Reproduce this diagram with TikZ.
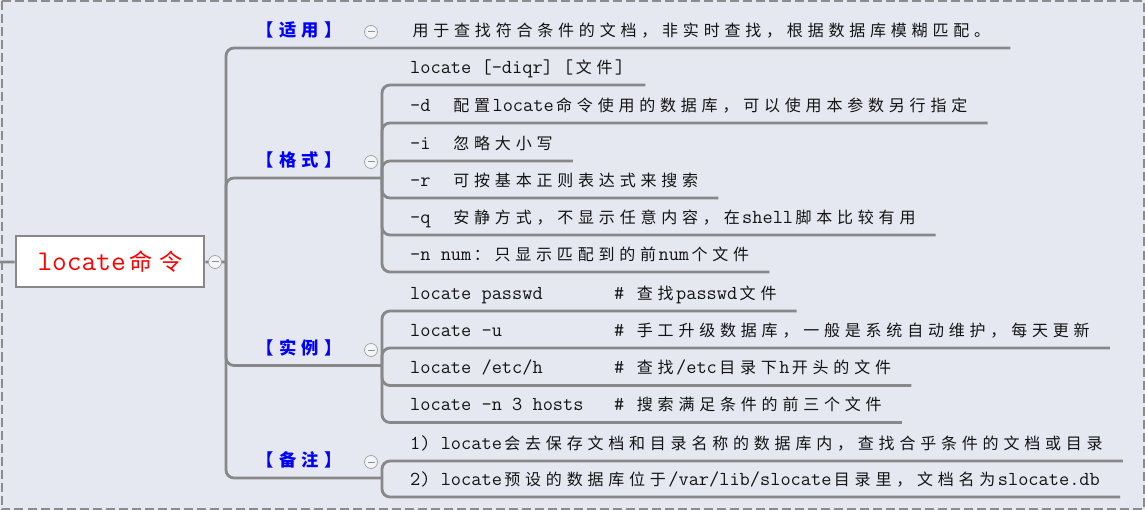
\documentclass[tikz,border=0pt]{standalone}
\usepackage{fontspec}
\newfontfamily\cjk{Noto Sans CJK SC}[Scale=0.808,LetterSpace=30]
\usetikzlibrary{positioning}
\definecolor{mapbg}{RGB}{229,232,240}
\definecolor{framegray}{RGB}{140,140,140}
\definecolor{wiregray}{RGB}{136,136,136}
\definecolor{foldgray}{RGB}{165,165,165}
\definecolor{foldfill}{RGB}{245,245,247}
\definecolor{foldmark}{RGB}{140,140,180}
\definecolor{labelblue}{RGB}{0,0,255}
\definecolor{rootred}{RGB}{255,0,0}
\definecolor{inkdark}{RGB}{20,20,20}
\newcommand{\zh}[1]{{\cjk\hspace{0.15em}#1\hspace{0.15em}}}
\tikzset{
  mapframe/.style={draw=framegray, line width=2pt, dash pattern=on 9pt off 4pt},
  wire/.style={draw=wiregray, line width=2.8pt, rounded corners=8pt},
  rootbox/.style={rectangle, draw=wiregray, line width=2.8pt, fill=white,
                  minimum width=188pt, minimum height=51pt, inner sep=0pt,
                  text=rootred, font=\ttfamily\fontsize{28.6}{32}\selectfont,
                  text height=19pt, text depth=0pt},
  branch/.style={anchor=base, inner sep=0pt, text=labelblue,
                 font=\ttfamily\fontsize{21.4}{24}\selectfont\bfseries},
  leaf/.style={anchor=south west, inner sep=0pt, text depth=11.5pt,
               text=inkdark, font=\ttfamily\fontsize{19.8}{22}\selectfont},
  fold/.style={circle, draw=foldgray, fill=foldfill, line width=0.8pt,
               minimum size=13pt, inner sep=0pt,
               path picture={\draw[foldmark, line width=1pt]
                 ([xshift=-3.5pt]path picture bounding box.center) --
                 ([xshift=3.5pt]path picture bounding box.center);}},
}
\begin{document}
\begin{tikzpicture}[x=1pt, y=-1pt]
\fill[mapbg] (0,0) rectangle (1145,510);
\draw[mapframe] (1.5,1.5) rectangle (1143.5,508.5);
\useasboundingbox (0,0) rectangle (1145,510);

\node[rootbox] (root) at (110,261.5) {locate\zh{命令}};
\coordinate (in) at (0,262);
\coordinate (hub) at (226,262);

\node[branch] (use) at (298,36.5) {\zh{【适用】}};
\node[branch] (fmt) at (298,166.5) {\zh{【格式】}};
\node[branch] (ex) at (298,354.5) {\zh{【实例】}};
\node[branch] (rem) at (298,466.5) {\zh{【备注】}};

\coordinate (fmtj) at (382,178);
\coordinate (exj) at (382,365.5);
\coordinate (remj) at (382,478);

\node[leaf] (use1) at (410,48) {\zh{用于查找符合条件的文档，非实时查找，根据数据库模糊匹配。}};

\node[leaf] (fmt1) at (410,85) {locate [-diqr] [\zh{文件}]};
\node[leaf] (fmt2) at (410,123) {-d~~\zh{配置}locate\zh{命令使用的数据库，可以使用本参数另行指定}};
\node[leaf] (fmt3) at (410,161) {-i~~\zh{忽略大小写}};
\node[leaf] (fmt4) at (410,198) {-r~~\zh{可按基本正则表达式来搜索}};
\node[leaf] (fmt5) at (410,235) {-q~~\zh{安静方式，不显示任意内容，在}shell\zh{脚本比较有用}};
\node[leaf] (fmt6) at (410,272) {-n num\zh{：只显示匹配到的前}num\zh{个文件}};

\node[leaf] (ex1) at (410,311) {locate passwd~~~~~~~\# \zh{查找}passwd\zh{文件}};
\node[leaf] (ex2) at (410,348) {locate -u~~~~~~~~~~~\# \zh{手工升级数据库，一般是系统自动维护，每天更新}};
\node[leaf] (ex3) at (410,385.5) {locate /etc/h~~~~~~~\# \zh{查找}/etc\zh{目录下}h\zh{开头的文件}};
\node[leaf] (ex4) at (410,422.5) {locate -n 3 hosts~~~\# \zh{搜索满足条件的前三个文件}};

\node[leaf] (rem1) at (410,461) {1) locate\zh{会去保存文档和目录名称的数据库内，查找合乎条件的文档或目录}};
\node[leaf] (rem2) at (410,497) {2) locate\zh{预设的数据库位于}/var/lib/slocate\zh{目录里，文档名为}slocate.db};

\draw[wire] (in) -- (root);
\draw[wire] (root) -- (hub);
\draw[wire] (hub) |- ([xshift=20pt]use1.south east);
\draw[wire] (hub) |- (fmtj);
\draw[wire] (hub) |- (exj);
\draw[wire] (hub) |- (remj);
\foreach \i in {1,...,6}
  \draw[wire] (fmtj) |- ([xshift=20pt]fmt\i.south east);
\foreach \i in {1,...,4}
  \draw[wire] (exj) |- ([xshift=20pt]ex\i.south east);
\foreach \i in {1,2}
  \draw[wire] (remj) |- ([xshift=20pt]rem\i.south east);

\node[fold] (rootfold) at (215,262) {};
\node[fold] (usefold) at (371,32) {};
\node[fold] (fmtfold) at (371,162) {};
\node[fold] (exfold) at (371,350) {};
\node[fold] (remfold) at (371,462) {};
\end{tikzpicture}
\end{document}
